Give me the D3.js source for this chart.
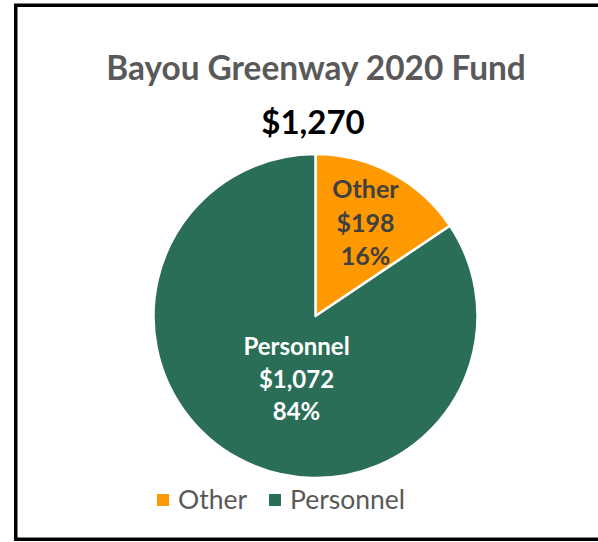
<!DOCTYPE html>
<html>
<head>
<meta charset="utf-8">
<script src="https://cdn.jsdelivr.net/npm/d3@7"></script>
<style>
  body { margin: 0; background: #fff; }
  svg { display: block; }
  text { font-family: Lato, "Open Sans", sans-serif; }
</style>
</head>
<body>
<script>
var categories = ["Other", "Personnel"];
var amounts = [198, 1072];
var percents = ["16%", "84%"];
var colors = ["#FF9900", "#2A6E57"];
var labelColors = ["#404040", "#ffffff"];
var totalLabel = "$1,270";
var title = "Bayou Greenway 2020 Fund";

var width = 598, height = 542;

var svg = d3.select("body").append("svg")
    .attr("width", width)
    .attr("height", height);

// frame
svg.append("rect")
    .attr("x", 15.75).attr("y", 5.25)
    .attr("width", 620).attr("height", 534)
    .attr("fill", "#fff")
    .attr("stroke", "#000")
    .attr("stroke-width", 3.5);

svg.append("text")
    .attr("x", 316).attr("y", 80)
    .attr("text-anchor", "middle")
    .attr("font-size", 33.4)
    .attr("font-weight", "bold")
    .attr("fill", "#595959")
    .text(title);

svg.append("text")
    .attr("x", 313).attr("y", 134)
    .attr("text-anchor", "middle")
    .attr("font-size", 33)
    .attr("font-weight", "bold")
    .attr("fill", "#000")
    .text(totalLabel);

var cx = 315.5, cy = 316, r = 162;

var pie = d3.pie().sort(null).value(function (d) { return d; });
var arcs = pie(amounts);
var arc = d3.arc().innerRadius(0).outerRadius(r);

var g = svg.append("g").attr("transform", "translate(" + cx + "," + cy + ")");

g.selectAll("path")
    .data(arcs)
    .enter().append("path")
    .attr("d", arc)
    .attr("fill", function (d, i) { return colors[i]; })
    .attr("stroke", "#fff")
    .attr("stroke-width", 2.5)
    .attr("stroke-linejoin", "round");

// data labels
var labelPos = [[50, -118], [-19, 39]];
var labelSize = [25, 24];
var lineGap = [33.5, 32.5];

arcs.forEach(function (d, i) {
    var t = g.append("text")
        .attr("text-anchor", "middle")
        .attr("font-size", labelSize[i])
        .attr("font-weight", "bold")
        .attr("fill", labelColors[i]);
    var lines = [categories[i], "$" + d3.format(",")(amounts[i]), percents[i]];
    lines.forEach(function (s, j) {
        t.append("tspan")
            .attr("x", labelPos[i][0])
            .attr("y", labelPos[i][1] + j * lineGap[i])
            .text(s);
    });
});

// legend
var legendX = [157, 269];
var legend = svg.append("g");
categories.forEach(function (c, i) {
    legend.append("rect")
        .attr("x", legendX[i]).attr("y", 494)
        .attr("width", 12).attr("height", 12)
        .attr("fill", colors[i]);
    legend.append("text")
        .attr("x", legendX[i] + 21).attr("y", 509)
        .attr("font-size", 26.5)
        .attr("fill", "#595959")
        .text(c);
});
</script>
</body>
</html>
